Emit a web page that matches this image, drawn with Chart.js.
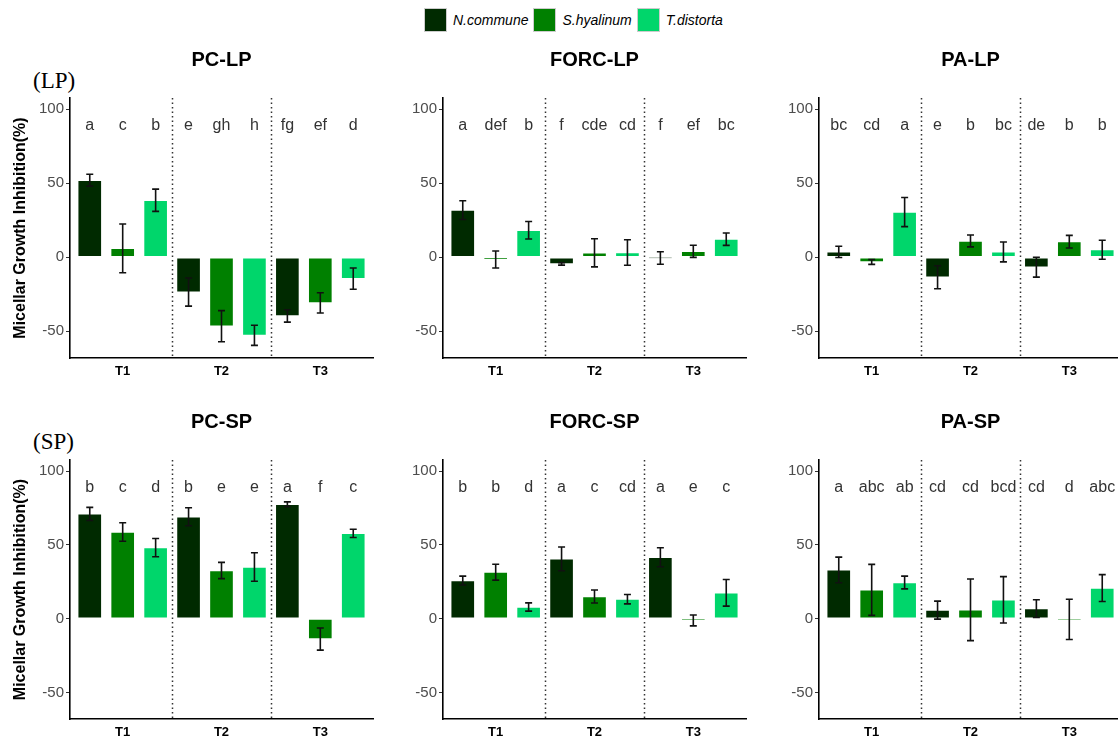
<!DOCTYPE html>
<html>
<head>
<meta charset="utf-8">
<script src="https://cdn.jsdelivr.net/npm/chart.js@4"></script>
<style>
  body { margin: 0; width: 1118px; height: 743px; overflow: hidden; background: #fff; position: relative;
         font-family: "Liberation Sans", Arial, sans-serif; }
  canvas { position: absolute; }
  #legend { position: absolute; top: 8px; left: 424px; display: flex; align-items: center; }
  .key { width: 23px; height: 24px; border: 1px solid #ccc; box-sizing: border-box; }
  .lab { font-style: italic; font-size: 14px; margin: 0 5px 0 6px; color: #000; }
  .tag { position: absolute; left: 33px; font-family: "Liberation Serif", "Times New Roman", serif;
         font-size: 23px; line-height: 1; color: #000; }
</style>
</head>
<body>
<div id="legend"></div>
<div class="tag" style="top:69px">(LP)</div>
<div class="tag" style="top:430px">(SP)</div>
<canvas id="c0" width="380" height="345" style="left:0;top:40px"></canvas>
<canvas id="c1" width="380" height="345" style="left:380px;top:40px"></canvas>
<canvas id="c2" width="380" height="345" style="left:760px;top:40px"></canvas>
<canvas id="c3" width="380" height="345" style="left:0;top:401px"></canvas>
<canvas id="c4" width="380" height="345" style="left:380px;top:401px"></canvas>
<canvas id="c5" width="380" height="345" style="left:760px;top:401px"></canvas>
<script>
let categories = ['T1', 'T2', 'T3'];
let species = ['N.commune', 'S.hyalinum', 'T.distorta'];
let colors = ['#002a00', '#008000', '#00d66b'];
let yTicks = [-50, 0, 50, 100];

// values in order T1 (N, S, T), T2 (N, S, T), T3 (N, S, T)
let pcLpMean = [52, 6, 38.5, -23.5, -46.5, -52.7, -39.6, -30.8, -14.4];
let pcLpErr = [4, 16.5, 7.5, 9.5, 10.5, 6.8, 4.2, 6.8, 7.2];
let pcLpLetters = ['a', 'c', 'b', 'e', 'gh', 'h', 'fg', 'ef', 'd'];

let forcLpMean = [31.8, -1.5, 18.2, -4.5, 3, 3.2, -0.5, 4, 12.2];
let forcLpErr = [6.3, 5.7, 5.9, 0.8, 9.5, 8.6, 4.2, 4.1, 4.2];
let forcLpLetters = ['a', 'def', 'b', 'f', 'cde', 'cd', 'f', 'ef', 'bc'];

let paLpMean = [3.6, -3.2, 30.5, -13.5, 11, 3.6, -6.7, 10.5, 5.1];
let paLpErr = [3.8, 1.6, 9.8, 7.8, 4, 6.7, 6.7, 4.3, 6.4];
let paLpLetters = ['bc', 'cd', 'a', 'e', 'b', 'bc', 'de', 'b', 'b'];

let pcSpMean = [71, 58.7, 48.1, 69, 32.6, 35, 77.5, -13.8, 57.8];
let pcSpErr = [4.4, 6.3, 6.2, 6.1, 5.5, 9.7, 1.6, 7.5, 2.8];
let pcSpLetters = ['b', 'c', 'd', 'b', 'e', 'e', 'a', 'f', 'c'];

let forcSpMean = [25.8, 31.5, 7.9, 40.5, 15, 13.2, 41.6, -1.2, 17.5];
let forcSpErr = [3, 5.4, 2.8, 8, 4.4, 3.2, 6.4, 3.7, 9];
let forcSpLetters = ['b', 'b', 'd', 'a', 'c', 'cd', 'a', 'e', 'c'];

let paSpMean = [33, 19.5, 24.5, 5.8, 6, 12.8, 6.8, -0.5, 20.7];
let paSpErr = [8.7, 17.3, 4.3, 6.1, 20.9, 15.7, 6, 13.6, 9.1];
let paSpLetters = ['a', 'abc', 'ab', 'cd', 'cd', 'bcd', 'cd', 'd', 'abc'];

let fontFamily = '"Liberation Sans", Arial, sans-serif';

// Legend
let legend = document.querySelector('#legend');
let html = '';
for (let i = 0; i < species.length; i++) {
  html += `<div class="key" style="background:${colors[i]}"></div><span class="lab">${species[i]}</span>`;
}
legend.innerHTML = html;

// error bars, letters, dotted separators, panel title
let panelPlugin = {
  id: 'panelDecor',
  beforeDatasetsDraw(chart) {
    let ctx = chart.ctx;
    let area = chart.chartArea;
    let x = chart.scales.x;
    ctx.save();
    ctx.strokeStyle = '#333';
    ctx.lineWidth = 1.5;
    ctx.setLineDash([1.5, 3]);
    [3.5, 6.5].forEach(function (v) {
      let px = Math.round(x.getPixelForValue(v)) + 0.5;
      ctx.beginPath();
      ctx.moveTo(px, area.top);
      ctx.lineTo(px, area.bottom);
      ctx.stroke();
    });
    ctx.restore();
  },
  afterDatasetsDraw(chart) {
    let ctx = chart.ctx;
    let y = chart.scales.y;
    let cfg = chart.options.plugins.panelDecor;
    ctx.save();
    chart.data.datasets.forEach(function (ds, s) {
      let meta = chart.getDatasetMeta(s);
      meta.data.forEach(function (bar, t) {
        let i = t * 3 + s;
        let m = cfg.means[i];
        let e = cfg.errs[i];
        let top = y.getPixelForValue(m + e);
        let bot = y.getPixelForValue(m - e);
        ctx.strokeStyle = '#111';
        ctx.lineWidth = 1.6;
        ctx.beginPath();
        ctx.moveTo(bar.x, top);
        ctx.lineTo(bar.x, bot);
        ctx.moveTo(bar.x - 3.5, top);
        ctx.lineTo(bar.x + 3.5, top);
        ctx.moveTo(bar.x - 3.5, bot);
        ctx.lineTo(bar.x + 3.5, bot);
        ctx.stroke();

        ctx.fillStyle = '#333';
        ctx.font = '16px ' + fontFamily;
        ctx.textAlign = 'center';
        ctx.textBaseline = 'alphabetic';
        ctx.fillText(cfg.letters[i], bar.x, y.getPixelForValue(86));
      });
    });
    let area = chart.chartArea;
    ctx.fillStyle = '#000';
    ctx.font = 'bold 20px ' + fontFamily;
    ctx.textAlign = 'center';
    ctx.textBaseline = 'middle';
    ctx.fillText(cfg.title, (area.left + area.right) / 2, area.top - 38);
    ctx.restore();
  }
};

function makePanel(id, title, means, errs, letters, col, padTop) {
  let yWidth = [70, 63, 59][col];
  let padRight = 380 - yWidth - 303;
  let datasets = [];
  for (let s = 0; s < species.length; s++) {
    datasets.push({
      label: species[s],
      data: categories.map(function (c, t) { return { x: t * 3 + s + 1, y: means[t * 3 + s] }; }),
      backgroundColor: colors[s],
      borderColor: 'rgba(255,255,255,0.65)',
      borderWidth: 1,
      borderSkipped: false,
      barThickness: 24,
      grouped: false
    });
  }
  return new Chart(document.querySelector('#' + id), {
    type: 'bar',
    data: { datasets: datasets },
    plugins: [panelPlugin],
    options: {
      responsive: false,
      animation: false,
      devicePixelRatio: 1,
      layout: { padding: { top: padTop, right: padRight, left: 0, bottom: 0 } },
      plugins: {
        legend: { display: false },
        tooltip: { enabled: false },
        panelDecor: { title: title, means: means, errs: errs, letters: letters }
      },
      scales: {
        x: {
          type: 'linear',
          min: 0.4,
          max: 9.6,
          offset: false,
          afterBuildTicks: function (s) { s.ticks = categories.map(function (c, i) { return { value: i * 3 + 2 }; }); },
          afterFit: function (s) { s.height = 27; },
          ticks: {
            callback: function (v) { return categories[Math.round((v - 2) / 3)]; },
            font: { family: fontFamily, size: 13, weight: 'bold' },
            color: '#000',
            padding: 6,
            maxRotation: 0,
            autoSkip: false
          },
          grid: { display: false, drawTicks: false },
          border: { color: '#000', width: 1.6 }
        },
        y: {
          min: -68,
          max: 107.5,
          afterBuildTicks: function (s) { s.ticks = yTicks.map(function (v) { return { value: v }; }); },
          afterFit: function (s) { s.width = yWidth; },
          ticks: { font: { family: fontFamily, size: 15 }, color: '#4d4d4d', padding: 2 },
          grid: { drawOnChartArea: false, tickLength: 4, color: '#333' },
          border: { color: '#000', width: 1.6 },
          title: {
            display: col === 0,
            text: 'Micellar Growth Inhibition(%)',
            font: { family: fontFamily, size: 16, weight: 'bold' },
            color: '#000',
            padding: { top: 11, bottom: 0 }
          }
        }
      }
    }
  });
}

makePanel('c0', 'PC-LP', pcLpMean, pcLpErr, pcLpLetters, 0, 58);
makePanel('c1', 'FORC-LP', forcLpMean, forcLpErr, forcLpLetters, 1, 58);
makePanel('c2', 'PA-LP', paLpMean, paLpErr, paLpLetters, 2, 58);
makePanel('c3', 'PC-SP', pcSpMean, pcSpErr, pcSpLetters, 0, 59);
makePanel('c4', 'FORC-SP', forcSpMean, forcSpErr, forcSpLetters, 1, 59);
makePanel('c5', 'PA-SP', paSpMean, paSpErr, paSpLetters, 2, 59);
</script>
</body>
</html>
